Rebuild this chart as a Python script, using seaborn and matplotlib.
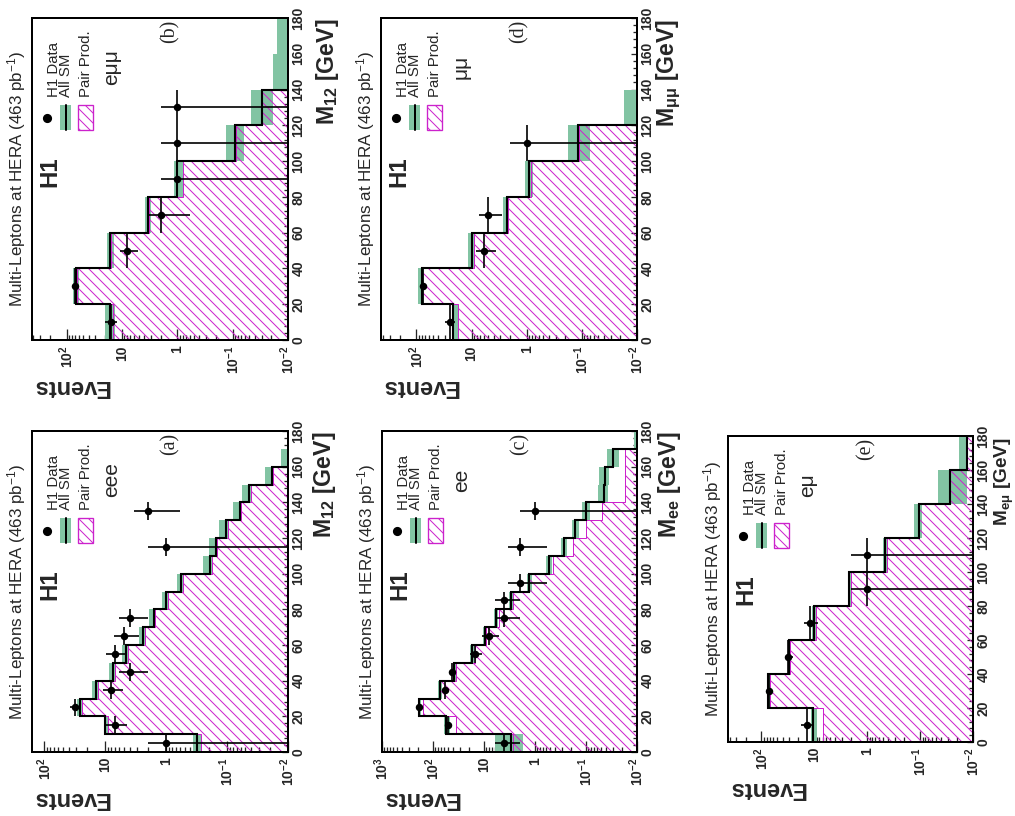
import numpy as np
import matplotlib
matplotlib.use("Agg")
import matplotlib.pyplot as plt
import seaborn as sns
from matplotlib.patches import Rectangle
from matplotlib.ticker import MultipleLocator, LogLocator, NullFormatter

# ---------------- data ----------------
edges10 = list(range(0, 181, 10))
edges20 = list(range(0, 181, 20))

# (a) eee, M12
a_sm = [0.31, 10, 26.5, 14.1, 7.5, 4.5, 2.4, 1.6, 1.0, 0.565, 0.19, 0.152, 0.103, 0.062, 0.043, 0.0186, 0.008, 0]
a_pair = [0.265, 9.1, 24, 13.2, 7.0, 4.2, 2.25, 1.5, 0.94, 0.53, 0.18, 0.145, 0.098, 0.059, 0.041, 0.0175, 0.008, 0]
a_band_lo = [0.265, 8.75, 24, 12.8, 6.8, 4.1, 2.2, 1.45, 0.9, 0.51, 0.18, 0.145, 0.098, 0.059, 0.041, 0.0175, 0.005, 0]
a_band_hi = [0.37, 10.7, 29.4, 16.5, 8.8, 5.3, 2.8, 1.9, 1.17, 0.67, 0.245, 0.2, 0.135, 0.08, 0.056, 0.024, 0.0128, 0]
a_mass = [5, 15, 25, 35, 45, 55, 65, 75, 115, 135]
a_data = [1, 7, 32, 8, 4, 7, 5, 4, 1, 2]

# (b) e mu mu, M12
b_sm = [16.5, 68, 16.5, 3.37, 1.0, 0.091, 0.0295, 0.008, 0.008]
b_pair = [14.4, 64, 15.4, 3.2, 0.785, 0.086, 0.0295, 0, 0]
b_band_lo = [13.4, 59, 13.9, 2.92, 0.76, 0.062, 0.019, 0.004, 0.004]
b_band_hi = [20.3, 77.9, 18.5, 3.75, 1.15, 0.131, 0.046, 0.019, 0.016]
b_mass = [10, 30, 50, 70, 90, 110, 130]
b_data = [16, 70, 8, 2, 1, 1, 1]

# (c) ee, Mee
c_sm = [2.9, 55, 185, 74, 38, 17, 9.7, 5.9, 2.9, 1.3, 0.52, 0.27, 0.164, 0.1, 0.045, 0.043, 0.029, 0.008]
c_pair = [2.7, 35, 159, 72, 35, 15, 9, 5, 2.7, 1.3, 0.44, 0.18, 0.1, 0.049, 0.017, 0.017, 0.017, 0]
c_band_lo = [1.7, 47, 170, 68, 35, 15.5, 8.9, 5.4, 2.6, 1.15, 0.46, 0.235, 0.14, 0.085, 0.037, 0.036, 0.023, 0.004]
c_band_hi = [6.2, 60, 200, 80, 41, 18.5, 10.6, 6.5, 3.2, 1.45, 0.6, 0.31, 0.19, 0.12, 0.057, 0.055, 0.038, 0.0115]
c_mass = [5, 15, 25, 35, 45, 55, 65, 75, 85, 95, 115, 135]
c_data = [4, 50, 190, 57, 42, 15, 8, 4, 4, 2, 2, 1]

# (d) mu mu, Mmumu
d_sm = [21.6, 81, 10, 2.3, 0.9, 0.12, 0.008, 0, 0]
d_pair = [17.5, 78, 9.1, 2.16, 0.85, 0.115, 0, 0, 0]
d_band_lo = [17.5, 74, 9.1, 2.2, 0.77, 0.07, 0.004, 0, 0]
d_band_hi = [23, 95, 11.6, 2.7, 1.07, 0.18, 0.017, 0, 0]
d_mass = [10, 30, 50, 70, 110]
d_data = [25, 77, 6, 5, 1]

# (e) e mu, Memu
e_sm = [10.5, 75, 30, 10, 2.18, 0.46, 0.107, 0.027, 0.013]
e_pair = [6.8, 69, 29, 9.3, 2.05, 0.43, 0.105, 0.027, 0.013]
e_band_lo = [9.1, 68, 27.5, 9.2, 2.0, 0.42, 0.093, 0.013, 0.013]
e_band_hi = [11.6, 80, 32, 11, 2.35, 0.5, 0.13, 0.046, 0.0186]
e_mass = [10, 30, 50, 70, 90, 110]
e_data = [14, 72, 31, 12, 1, 1]

mass_ticks = [0, 20, 40, 60, 80, 100, 120, 140, 160, 180]
decade_vals = [1000, 100, 10, 1, 0.1, 0.01]
decade_labels = [r"$\mathbf{10^{3}}$", r"$\mathbf{10^{2}}$", "10", "1",
                 r"$\mathbf{10^{-1}}$", r"$\mathbf{10^{-2}}$"]
title = "Multi-Leptons at HERA (463 pb$^{-1}$)"
legend_labels = ["H1 Data", "All SM", "Pair Prod."]

# ---------------- style ----------------
sns.set_style("white")
plt.rcParams["font.family"] = ["Liberation Sans", "DejaVu Sans"]
plt.rcParams.update({
    "mathtext.fontset": "custom",
    "mathtext.rm": "Liberation Sans",
    "mathtext.bf": "Liberation Sans:bold",
    "mathtext.it": "Liberation Sans:italic",
    "hatch.linewidth": 0.6,
})

DPI = 120
W, H = 1015, 816
GREEN = "#82c4a3"
MAG = "#cc22cc"
HATCH = "\\" * 4


def pt(px):
    return px * 72.0 / DPI


fig = plt.figure(figsize=(W / DPI, H / DPI), dpi=DPI)
fig.patch.set_facecolor("white")


def draw_panel(box, edges, sm, pair, band_lo, band_hi, mass, data, half, xmax,
               tag, chan, mlabel, mlabel_dx, mlabel_px=23):
    x0, y0, x1, y1 = box
    bw, bh = x1 - x0, y1 - y0
    ax = fig.add_axes([x0 / W, 1 - y1 / H, bw / W, bh / H])
    ax.set_facecolor("white")
    ax.set_xscale("log")

    edges = np.asarray(edges, float)
    lows = edges[:-1]
    widths = np.diff(edges)

    blo = np.maximum(np.asarray(band_lo, float), 1e-5)
    bhi = np.asarray(band_hi, float)
    m = bhi > 0
    ax.barh(y=lows[m], width=(bhi - blo)[m], left=blo[m], height=widths[m],
            align="edge", color=GREEN, linewidth=0, zorder=1)

    pv = np.clip(np.asarray(pair, float), 1e-5, None)
    ax.stairs(pv, edges, orientation="horizontal", baseline=1e-6, fill=True,
              facecolor="none", edgecolor=MAG, hatch=HATCH, linewidth=0.6, zorder=2)

    sv = np.clip(np.asarray(sm, float), 1e-5, None)
    ax.stairs(sv, edges, orientation="horizontal", baseline=None,
              color="black", linewidth=1.25, zorder=3)

    cnt = np.asarray(data, float)
    err = np.sqrt(cnt)
    ax.errorbar(cnt, mass, xerr=[np.minimum(err, cnt), err], yerr=half,
                fmt="none", ecolor="black", elinewidth=1.0, capsize=0, zorder=4)
    sns.scatterplot(x=cnt, y=mass, ax=ax, color="black", s=pt(7.5) ** 2,
                    linewidth=0, zorder=5, legend=False)

    ax.set_xlim(xmax, 0.01)
    ax.set_ylim(0, 180)

    # mass axis on the right
    ax.yaxis.tick_right()
    ax.set_yticks(mass_ticks)
    ax.set_yticklabels([str(t) for t in mass_ticks], rotation=90, va="center",
                       ha="left", fontweight="bold", fontsize=pt(14))
    ax.yaxis.set_minor_locator(MultipleLocator(4))
    ax.tick_params(axis="y", which="both", direction="in", right=True, left=False,
                   labelright=True, labelleft=False, pad=pt(3.5), width=pt(1.3))
    ax.tick_params(axis="y", which="major", length=pt(6))
    ax.tick_params(axis="y", which="minor", length=pt(4))

    # log events axis at the bottom
    dv = [v for v in decade_vals if v <= xmax * 1.01]
    dl = [l for v, l in zip(decade_vals, decade_labels) if v <= xmax * 1.01]
    ax.set_xticks(dv)
    ax.set_xticklabels(dl, rotation=90, va="top", ha="center",
                       fontweight="bold", fontsize=pt(14))
    ax.xaxis.set_minor_locator(LogLocator(base=10, subs=np.arange(2, 10), numticks=60))
    ax.xaxis.set_minor_formatter(NullFormatter())
    ax.tick_params(axis="x", which="both", direction="in", bottom=True, top=False,
                   pad=pt(5), width=pt(1.3))
    ax.tick_params(axis="x", which="major", length=pt(11))
    ax.tick_params(axis="x", which="minor", length=pt(5.5))

    for s in ax.spines.values():
        s.set_visible(True)
        s.set_color("black")
        s.set_linewidth(pt(2))

    def A(dx, dy):
        return dx / bw, 1 - dy / bh

    tr = ax.transAxes
    ax.text(*A(18, 154), "H1", transform=tr, rotation=90, ha="center",
            va="center", fontsize=pt(24), fontweight="bold")
    # legend
    ax.plot(*A(15, 100), "o", transform=tr, color="black", ms=pt(7.5), zorder=6)
    for dx, lab in zip([21.5, 34, 54], legend_labels):
        ax.text(*A(dx, 79), lab, transform=tr, rotation=90, ha="center",
                va="bottom", fontsize=pt(15))
    gx, gy = A(27.7, 112)
    ax.add_patch(Rectangle((gx, gy), 11.7 / bw, 25 / bh, transform=tr,
                           facecolor=GREEN, edgecolor="none", zorder=6))
    ax.plot([A(33.5, 0)[0]] * 2, [A(0, 112)[1], A(0, 87)[1]], transform=tr,
            color="black", lw=1.2, zorder=7)
    hx, hy = A(46, 112)
    ax.add_patch(Rectangle((hx, hy), 15 / bw, 25 / bh, transform=tr,
                           facecolor="none", edgecolor=MAG, hatch=HATCH,
                           linewidth=0.8, zorder=6))
    ax.text(*A(80, 49), chan, transform=tr, rotation=90, ha="center",
            va="center", fontsize=pt(21))
    ax.text(*A(138, 13), tag, transform=tr, rotation=90, ha="center",
            va="center", fontsize=pt(20), family="Liberation Serif")

    # outside labels
    fig.text((x0 - 15) / W, 1 - ((y0 + y1) / 2) / H, title, rotation=90,
             ha="center", va="center", fontsize=pt(17))
    fig.text(x0 / W, 1 - (y1 + 46) / H, "Events", rotation=180, ha="left",
             va="center", fontsize=pt(23.5), fontweight="bold")
    fig.text((x1 + mlabel_dx) / W, 1 - (y0 + 1) / H, mlabel, rotation=90,
             ha="center", va="top", fontsize=pt(mlabel_px), fontweight="bold")
    return ax


draw_panel((32, 431, 288, 752), edges10, a_sm, a_pair, a_band_lo, a_band_hi,
           a_mass, a_data, 5, 160, "(a)", "eee", r"$\mathbf{M_{12}}$ [GeV]", 36)
draw_panel((32, 18, 288, 340), edges20, b_sm, b_pair, b_band_lo, b_band_hi,
           b_mass, b_data, 10, 420, "(b)", "eμμ", r"$\mathbf{M_{12}}$ [GeV]", 39)
draw_panel((382, 431, 637, 752), edges10, c_sm, c_pair, c_band_lo, c_band_hi,
           c_mass, c_data, 5, 1000, "(c)", "ee", r"$\mathbf{M_{ee}}$ [GeV]", 32)
draw_panel((381, 18, 637, 340), edges20, d_sm, d_pair, d_band_lo, d_band_hi,
           d_mass, d_data, 10, 440, "(d)", "μμ", r"$\mathbf{M_{\mu\mu}}$ [GeV]", 32)
draw_panel((728, 436, 973, 742), edges20, e_sm, e_pair, e_band_lo, e_band_hi,
           e_mass, e_data, 10, 430, "(e)", "eμ", r"$\mathbf{M_{e\mu}}$ [GeV]", 31, 19)

fig.savefig("out.png", dpi=DPI, facecolor="white")
